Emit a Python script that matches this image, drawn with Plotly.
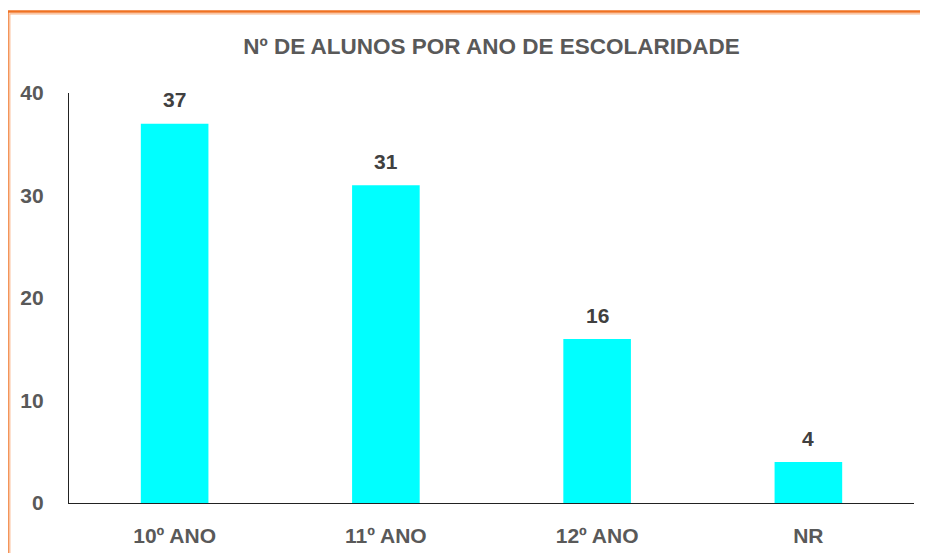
import plotly.graph_objects as go

categories = ["10º ANO", "11º ANO", "12º ANO", "NR"]
values = [37, 31, 16, 4]
title_text = "Nº DE ALUNOS POR ANO DE ESCOLARIDADE"
y_ticks = [0, 10, 20, 30, 40]

FONT = "Liberation Sans"
GRAY = "#595959"

# page offset (browser body margin)
OFF = 8
W, H = 920, 545
# target page pixels: plot area x 69..914, y 93..503
L, T = 69 - OFF, 93 - OFF
R = OFF + W - 914
B = OFF + H - 503
pw, ph = W - L - R, H - T - B

def px(x):
    return (x - OFF - L) / pw

def py(y):
    return (H - B - (y - OFF)) / ph

fig = go.Figure(go.Bar(
    x=categories, y=values,
    marker=dict(color="#00FFFF", line=dict(width=0)),
    hoverinfo="x+y",
))

for c, v in zip(categories, values):
    fig.add_annotation(x=c, y=v, text=str(v), showarrow=False,
                       yanchor="middle", yshift=24,
                       font=dict(family=FONT, size=21, color="#404040", weight="bold"))

fig.add_shape(type="rect", xref="paper", yref="paper",
              x0=px(7.5), x1=px(945), y0=py(570), y1=py(11.5),
              line=dict(color="#F07223", width=2.5), layer="below")
fig.add_shape(type="rect", xref="paper", yref="paper",
              x0=px(9.8), x1=px(943), y0=py(568), y1=py(13.8),
              line=dict(color="#F9B58A", width=1.2), layer="below")

fig.update_layout(
    width=W, height=H,
    margin=dict(l=L, r=R, t=T, b=B, autoexpand=False),
    paper_bgcolor="white", plot_bgcolor="white",
    bargap=0.68,
    showlegend=False,
    title=dict(text=title_text, x=0.5, xref="paper", xanchor="center",
               y=1 - (46 - OFF) / H, yanchor="middle",
               font=dict(family=FONT, size=22.5, color=GRAY, weight="bold")),
    xaxis=dict(showline=True, linecolor="#222222", linewidth=1.3,
               showgrid=False, ticks="", ticklabelstandoff=14, automargin=False,
               tickfont=dict(family=FONT, size=21, color=GRAY, weight="bold")),
    yaxis=dict(range=[0, 40], tickvals=y_ticks, showline=True,
               linecolor="#222222", linewidth=1.3, showgrid=False,
               zeroline=False, ticks="", ticklabelstandoff=20, automargin=False,
               tickfont=dict(family=FONT, size=21, color=GRAY, weight="bold")),
)

fig.write_html("out.html")
